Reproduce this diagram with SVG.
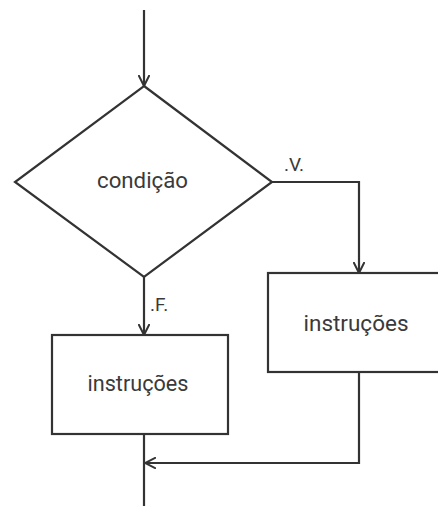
<svg xmlns="http://www.w3.org/2000/svg" width="438" height="506" viewBox="0 0 438 506">
  <style>
    .shape { fill: #fff; stroke: #333; stroke-width: 2.2; }
    .wire { fill: none; stroke: #333; stroke-width: 2.2; }
    .lbl { font-family: Roboto, "Liberation Sans", sans-serif; fill: #3a3a3a; font-size: 22.5px; text-anchor: middle; }
    .tag { font-family: Roboto, "Liberation Sans", sans-serif; fill: #3a3a3a; font-size: 19px; }
  </style>
  <defs>
    <marker id="arrow" viewBox="0 0 12 12" refX="11" refY="6" markerWidth="12" markerHeight="12" markerUnits="userSpaceOnUse" orient="auto">
      <path d="M0,0.5 L11,6 L0,11.5" fill="none" stroke="#333" stroke-width="2"/>
    </marker>
  </defs>
  <rect width="438" height="506" fill="#fff"/>

  <g id="connectors">
    <path class="wire" d="M144,10 V86" marker-end="url(#arrow)"/>
    <path class="wire" d="M272,182 H359 V273" marker-end="url(#arrow)"/>
    <path class="wire" d="M144,277 V335" marker-end="url(#arrow)"/>
    <path class="wire" d="M359,372 V463 H145" marker-end="url(#arrow)"/>
    <path class="wire" d="M144,434 V506"/>
  </g>

  <g id="decision">
    <polygon class="shape" points="144,86 272,182 144,277 15,182"/>
    <text class="lbl" x="142.5" y="188" textLength="91" lengthAdjust="spacingAndGlyphs">condição</text>
  </g>

  <g id="branch-true">
    <rect class="shape" x="268" y="273" width="180" height="99"/>
    <text class="lbl" x="356" y="331" textLength="105" lengthAdjust="spacingAndGlyphs">instruções</text>
  </g>

  <g id="branch-false">
    <rect class="shape" x="52" y="335" width="176" height="99"/>
    <text class="lbl" x="138" y="391" textLength="101" lengthAdjust="spacingAndGlyphs">instruções</text>
  </g>

  <g id="labels">
    <text class="tag" x="284" y="171">.V.</text>
    <text class="tag" x="150" y="311">.F.</text>
  </g>
</svg>
